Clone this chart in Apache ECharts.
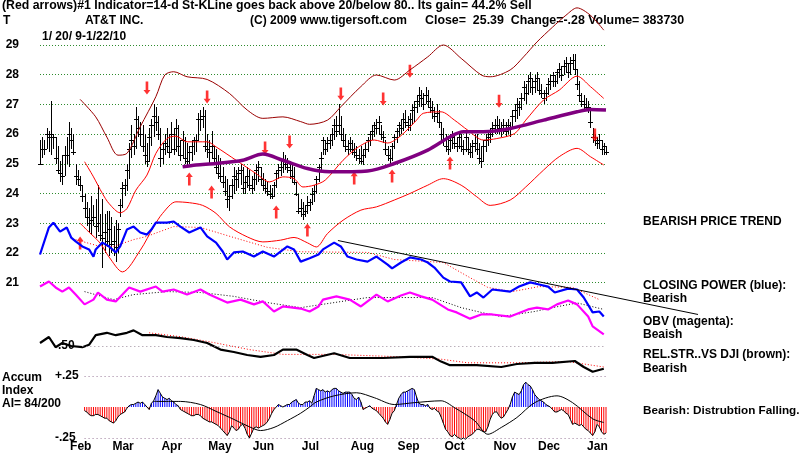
<!DOCTYPE html>
<html><head><meta charset="utf-8">
<script src="https://cdn.jsdelivr.net/npm/echarts/dist/echarts.min.js"></script>
<style>html,body{margin:0;padding:0;background:#fff}#c{width:800px;height:455px}</style>
</head><body><div id="c"></div>
<script>
// ---------- categories: trading days 1/20/09 - 1/22/10 ----------
const HOLIDAYS = ['2009-02-16','2009-04-10','2009-05-25','2009-07-03','2009-09-07','2009-11-26','2009-12-25','2010-01-01','2010-01-18'];
const MONTH_NAMES = ['Jan','Feb','Mar','Apr','May','Jun','Jul','Aug','Sep','Oct','Nov','Dec'];
function buildDays(){const out=[];let d=Date.UTC(2009,0,20);const end=Date.UTC(2010,0,22);
  while(d<=end){const dt=new Date(d);const wd=dt.getUTCDay();const s=dt.toISOString().slice(0,10);
    if(wd!==0&&wd!==6&&HOLIDAYS.indexOf(s)<0)out.push(s);d+=86400000;}return out;}
const dates = buildDays();

// ---------- price bars ----------
const high = [
25.8,25.9,25.8,26.2,26.1,27.1,26.0,25.9,25.6,25.1,
25.3,25.6,25.9,26.4,26.2,26.0,25.0,24.8,24.6,24.3,
24.0,23.7,23.5,23.9,23.6,23.8,24.3,23.3,23.8,23.3,
23.4,23.4,23.2,22.9,23.1,23.0,23.8,24.4,24.5,25.0,
25.7,26.3,26.0,26.9,26.6,26.4,26.3,26.0,25.7,26.2,
26.5,27.0,26.9,26.6,26.2,25.7,26.0,26.2,26.0,26.4,
26.2,26.5,26.3,25.8,26.1,25.9,25.7,25.6,25.8,25.9,
26.0,26.7,26.8,26.9,26.8,26.0,25.8,26.1,25.6,25.5,
25.3,25.2,24.9,24.6,24.5,24.3,24.5,24.9,24.8,24.9,
25.0,24.9,24.6,24.9,24.8,24.6,24.7,25.0,25.1,24.9,
24.7,24.5,24.4,24.3,24.2,24.4,24.8,25.0,25.2,25.4,
25.3,25.2,25.1,25.0,24.9,24.4,24.0,23.8,23.7,23.6,
23.9,23.8,24.2,24.3,24.6,25.0,25.4,25.9,25.8,25.9,
26.0,26.2,26.5,26.6,27.0,26.6,26.2,26.0,25.8,25.9,
25.8,25.7,25.6,25.5,25.6,25.5,25.7,25.9,26.1,26.3,
26.4,26.5,26.6,26.3,26.1,25.8,25.6,25.5,25.7,26.0,
26.2,26.4,26.5,26.7,26.8,26.6,26.7,27.0,27.1,27.3,
27.6,27.5,27.4,27.6,27.5,27.2,27.1,26.9,27.0,26.8,
26.4,26.2,26.0,25.9,26.0,26.1,26.0,25.9,26.1,26.0,
25.8,26.1,25.9,25.7,25.8,26.0,26.0,25.7,25.6,25.8,
26.0,26.1,26.2,26.4,26.5,26.6,26.5,26.4,26.5,26.4,
26.5,26.4,26.8,27.0,27.2,27.1,27.4,27.8,27.7,28.0,
28.1,27.9,28.0,28.1,27.9,27.7,27.5,27.6,27.9,28.0,
28.1,28.0,28.2,28.4,28.3,28.5,28.6,28.4,28.6,28.7,
28.7,28.2,27.8,27.4,27.3,27.2,27.1,26.9,26.2,26.0,
25.9,26.0,25.8,25.7,25.6];
const low = [
24.95,25.2,25.3,25.5,25.4,25.3,25.5,25.0,24.7,24.4,
24.3,24.6,25.0,24.9,25.5,25.3,24.3,24.3,24.1,23.7,
23.2,22.9,22.7,22.6,22.9,22.5,22.7,22.4,21.5,22.0,
22.2,21.9,22.0,21.9,21.7,22.0,23.2,23.5,23.9,24.1,
24.5,25.2,25.3,25.5,25.9,25.6,25.4,25.0,24.9,25.1,
25.6,25.9,26.1,25.8,24.9,25.0,25.3,25.4,25.2,25.4,
25.3,25.4,25.3,25.1,25.2,25.0,24.9,25.0,25.1,25.3,
25.4,25.8,26.1,26.2,25.4,25.2,25.0,25.2,25.0,24.7,
24.5,24.4,24.2,23.9,23.5,23.4,23.8,24.0,24.1,24.2,
24.3,24.0,24.0,24.2,24.1,24.0,24.1,24.3,24.4,24.3,
24.1,24.0,23.9,23.8,23.8,23.9,24.2,24.5,24.6,24.7,
24.8,24.7,24.5,24.4,24.3,23.9,23.3,23.2,23.1,23.2,
23.3,23.4,23.6,23.7,24.0,24.4,24.8,25.3,25.3,25.4,
25.5,25.6,25.8,25.9,26.0,25.8,25.6,25.4,25.3,25.4,
25.3,25.2,25.1,25.0,25.0,24.95,25.2,25.4,25.6,25.8,
25.9,26.0,26.0,25.8,25.7,25.3,25.1,25.0,25.1,25.5,
25.7,25.9,26.0,26.1,26.2,26.1,26.1,26.3,26.4,26.7,
26.9,26.9,26.8,27.0,26.9,26.7,26.5,26.4,26.4,26.2,
25.8,25.6,25.4,25.3,25.4,25.5,25.5,25.4,25.5,25.4,
25.3,25.4,25.3,25.2,25.2,25.4,25.3,25.0,24.85,25.1,
25.4,25.6,25.7,25.9,26.0,26.0,26.0,25.9,26.0,25.9,
26.0,25.9,26.2,26.4,26.5,26.6,26.8,27.1,27.0,27.3,
27.4,27.3,27.4,27.5,27.3,27.2,27.0,27.1,27.3,27.5,
27.6,27.6,27.7,27.9,27.8,28.0,28.1,27.9,28.0,28.2,
28.0,27.5,27.1,26.9,26.8,26.8,26.7,26.2,25.7,25.6,
25.5,25.5,25.3,25.3,25.3];
const close = [
25.0,25.5,25.5,26.0,25.9,26.0,25.9,25.2,24.8,24.7,
24.6,25.3,25.3,26.0,25.8,25.4,24.6,24.5,24.3,23.9,
23.5,23.2,23.0,23.1,23.2,22.9,23.0,22.6,22.5,22.7,
22.4,22.8,22.3,22.4,22.2,22.8,23.6,24.2,24.3,24.8,
25.5,25.8,25.6,26.5,26.2,26.0,25.6,25.3,25.1,25.9,
26.3,26.6,26.4,26.0,25.2,25.5,25.7,25.6,25.4,26.0,
25.5,26.2,25.6,25.3,25.8,25.2,25.1,25.4,25.6,25.8,
25.8,26.5,26.5,26.6,25.6,25.5,25.4,25.6,25.2,24.9,
24.7,24.6,24.4,24.1,23.8,23.9,24.3,24.6,24.5,24.7,
24.8,24.2,24.4,24.6,24.3,24.2,24.5,24.8,24.9,24.5,
24.3,24.2,24.1,24.0,23.9,24.3,24.7,24.8,24.9,25.1,
25.0,24.9,24.8,24.6,24.4,24.0,23.4,23.5,23.3,23.4,
23.6,23.7,24.0,24.1,24.5,24.9,25.2,25.8,25.5,25.7,
25.8,26.0,26.3,26.1,26.3,26.0,25.8,25.6,25.5,25.7,
25.5,25.4,25.3,25.2,25.1,25.3,25.5,25.8,26.0,26.1,
26.3,26.2,26.4,26.0,25.9,25.5,25.3,25.2,25.6,25.9,
26.1,26.3,26.2,26.5,26.4,26.3,26.5,26.8,26.9,27.1,
27.3,27.2,27.0,27.3,27.1,26.9,26.8,26.6,26.7,26.4,
26.0,25.8,25.6,25.5,25.8,25.9,25.7,25.6,25.9,25.6,
25.5,25.9,25.5,25.4,25.6,25.7,25.5,25.2,25.1,25.6,
25.8,25.9,26.0,26.2,26.3,26.3,26.2,26.2,26.3,26.1,
26.3,26.2,26.6,26.8,27.0,26.9,27.2,27.6,27.4,27.8,
27.9,27.6,27.8,27.9,27.5,27.4,27.2,27.4,27.7,27.8,
28.0,27.8,28.1,28.2,28.0,28.3,28.4,28.1,28.4,28.5,
28.2,27.7,27.3,27.1,27.0,26.9,26.9,26.4,25.9,25.8,
25.7,25.8,25.5,25.6,25.39];

// ---------- bands & averages (day index, price) ----------
const upperBand = [[18,27.17],[25,26.58],[30,25.9],[35,25.29],[39,25.35],[45,26.25],[52,27.26],[56,27.99],[60,28.1],[66,27.93],[75,27.84],[85,27.37],[93,26.81],[100,26.53],[109,26.58],[117,26.42],[121,26.33],[129,26.47],[135,26.92],[144,27.6],[151,27.99],[159,27.82],[166,28.16],[174,28.6],[181,29.0],[189,28.55],[198,27.99],[202,27.93],[211,28.16],[217,28.6],[223,29.1],[230,29.6],[236,30.0],[241,30.25],[247,30.0],[253,29.5]];
const midBand = [[20,25.07],[24,24.56],[28,24.0],[31,23.66],[36,23.35],[39,23.49],[43,24.11],[48,24.62],[52,25.35],[57,25.85],[61,25.93],[66,25.74],[75,25.74],[79,25.57],[88,25.12],[97,24.67],[103,24.39],[109,24.56],[114,24.5],[118,24.22],[123,24.28],[128,24.45],[136,25.12],[143,25.57],[150,25.8],[156,25.7],[162,25.95],[169,26.47],[172,26.7],[180,26.75],[186,26.47],[192,26.13],[199,25.8],[205,25.85],[213,26.02],[218,26.47],[226,27.15],[233,27.48],[241,27.95],[247,27.6],[253,27.2]];
const lowerBand = [[18,23.0],[22,22.7],[27,22.33],[31,21.86],[37,21.36],[45,22.09],[51,22.88],[55,23.33],[61,23.72],[67,23.69],[73,23.6],[79,23.33],[85,22.88],[93,22.54],[100,22.37],[108,22.43],[114,22.52],[120,22.34],[124,22.2],[129,22.65],[136,23.1],[144,23.44],[151,23.55],[159,23.78],[166,24.0],[174,24.28],[181,24.5],[189,24.28],[196,23.89],[202,23.6],[211,23.78],[218,24.22],[226,24.79],[233,25.24],[241,25.52],[247,25.24],[253,24.96]];
const ma65 = [[64,24.9],[70,24.96],[79,25.01],[91,25.12],[100,25.33],[109,25.12],[120,24.84],[130,24.73],[147,24.76],[159,25.01],[174,25.46],[184,25.91],[190,26.08],[199,26.08],[211,26.19],[226,26.47],[241,26.75],[247,26.83],[254,26.81]];

// ---------- signal arrows (day index, price) ----------
const downArrows = [[48,27.55],[75,27.25],[101,25.53],[111.8,25.73],[134.6,27.35],[153.5,27.18],[166.1,28.12],[206,27.11],[248.7,25.97]];
const upArrows = [[17.5,22.33],[66.9,24.49],[77.2,24.05],[105.9,23.38],[119.8,22.77],[141.4,24.52],[158.4,24.59],[184,25.03]];

// ---------- Closing Power (blue) & OBV (magenta), same scale as price panel ----------
const closingPower = [[0,21.93],[4,22.84],[6,23.0],[9,22.7],[12,22.84],[14,22.5],[16,22.37],[19,22.2],[22,22.1],[24,21.86],[25,22.1],[28,22.33],[31,22.2],[34,22.0],[36,22.2],[39,22.77],[42,22.87],[45,22.67],[48,22.6],[50,22.77],[52,23.0],[57,23.0],[60,23.04],[63,22.87],[67,22.67],[72,22.84],[75,22.54],[79,22.33],[82,22.03],[84,21.76],[87,22.0],[91,22.03],[96,21.86],[100,22.03],[105,21.86],[111,22.2],[114,22.1],[117,21.69],[121,21.8],[125,21.93],[127,22.1],[132,22.33],[135,22.2],[138,21.86],[142,21.76],[147,21.69],[151,21.86],[156,21.59],[158,21.46],[162,21.66],[166,21.83],[171,21.76],[174,21.66],[177,21.49],[181,21.15],[184,21.02],[189,20.99],[193,20.52],[196,20.65],[199,20.48],[203,20.75],[211,20.68],[215,20.85],[220,20.99],[224,20.92],[228,20.85],[231,20.65],[237,20.78],[241,20.75],[244,20.48],[248,19.98],[251,20.01],[253,19.84]];
const closingPowerMA = [[16,22.43],[27,22.2],[33,22.2],[42,22.43],[48,22.54],[60,22.87],[72,22.84],[87,22.5],[102,22.17],[117,22.02],[147,22.0],[159,21.76],[181,21.66],[192,21.19],[201,20.82],[212,20.68],[224,20.85],[239,20.82],[251,20.41]];
const cpTrend = [[133.7,22.40],[295.3,19.91]];
const obv = [[0,20.85],[4,21.02],[7,20.82],[10,20.68],[13,20.82],[16,20.58],[20,20.25],[24,20.41],[26,20.65],[30,20.41],[34,20.35],[37,20.58],[40,20.82],[45,20.68],[52,20.85],[55,20.68],[60,20.75],[66,20.58],[72,20.75],[76,20.58],[84,20.31],[90,20.41],[96,20.25],[100,20.35],[105,20.01],[109,20.18],[117,20.11],[121,20.01],[125,20.18],[127,20.41],[133,20.52],[139,20.41],[144,20.18],[151,20.58],[156,20.35],[162,20.55],[166,20.65],[171,20.52],[176,20.41],[183,20.08],[187,19.98],[193,19.77],[198,19.91],[203,19.91],[211,19.84],[219,20.08],[223,20.14],[228,20.08],[232,20.25],[237,20.38],[241,20.25],[246,19.84],[248,19.51],[253,19.24]];
const obvMA = [[20,20.68],[33,20.41],[42,20.58],[57,20.68],[72,20.65],[87,20.52],[102,20.31],[117,20.14],[132,20.31],[147,20.48],[166,20.48],[176,20.48],[189,20.14],[198,19.98],[207,19.84],[222,20.01],[230,20.14],[241,20.3],[253,20.08]];

// ---------- Relative strength vs DJI ----------
const relStr = [[0,0.525],[4,0.575],[7,0.49],[10,0.525],[14,0.5],[19,0.49],[22,0.51],[25,0.59],[30,0.61],[34,0.59],[39,0.61],[42,0.63],[46,0.59],[52,0.59],[57,0.575],[63,0.565],[69,0.55],[75,0.525],[81,0.47],[87,0.45],[93,0.425],[99,0.41],[105,0.425],[109,0.47],[115,0.47],[120,0.425],[123,0.40],[132,0.44],[139,0.40],[154,0.40],[166,0.41],[176,0.41],[180,0.37],[184,0.34],[196,0.34],[207,0.325],[214,0.35],[222,0.36],[230,0.36],[240,0.375],[244,0.325],[248,0.285],[253,0.31]];
const relStrMA = [[49,0.61],[64,0.575],[79,0.525],[94,0.47],[109,0.43],[124,0.43],[132,0.43],[162,0.41],[180,0.39],[192,0.36],[214,0.36],[237,0.37],[253,0.325]];

// ---------- Accumulation index (daily from day 20) ----------
const accumStart = 20;
const accumVals = [
-0.03,-0.04,-0.06,-0.07,-0.07,-0.06,-0.06,-0.07,-0.08,-0.09,
-0.09,-0.11,-0.12,-0.13,-0.11,-0.08,-0.06,-0.05,-0.04,-0.01,
0.01,0.02,0.02,0.03,0.04,0.03,0.04,0.02,0.0,-0.02,
0.03,0.05,0.09,0.14,0.11,0.08,0.07,0.06,0.07,0.05,
0.04,0.02,0.01,-0.02,-0.03,-0.04,-0.05,-0.06,-0.07,-0.07,
-0.06,-0.06,-0.07,-0.09,-0.1,-0.11,-0.12,-0.12,-0.13,-0.14,
-0.15,-0.17,-0.19,-0.21,-0.23,-0.2,-0.15,-0.17,-0.19,-0.18,
-0.15,-0.14,-0.17,-0.22,-0.25,-0.21,-0.17,-0.16,-0.17,-0.16,
-0.15,-0.14,-0.12,-0.09,-0.05,-0.02,0.0,0.02,0.01,0.0,
0.01,0.02,0.02,0.04,0.05,0.06,0.03,0.02,0.02,0.04,
0.04,0.05,0.03,0.09,0.15,0.14,0.13,0.14,0.12,0.13,
0.12,0.14,0.15,0.15,0.13,0.12,0.11,0.12,0.12,0.12,
0.1,0.07,0.06,0.08,0.04,-0.02,-0.01,0.0,0.01,-0.01,
-0.02,-0.03,-0.05,-0.07,-0.09,-0.12,-0.14,-0.1,-0.05,-0.03,
0.02,0.07,0.1,0.12,0.12,0.13,0.14,0.15,0.14,0.08,
0.03,0.02,0.02,0.01,0.02,-0.01,-0.02,-0.01,-0.03,-0.04,
-0.08,-0.13,-0.18,-0.2,-0.23,-0.24,-0.22,-0.24,-0.25,-0.26,
-0.25,-0.26,-0.24,-0.23,-0.22,-0.2,-0.18,-0.18,-0.19,-0.2,
-0.2,-0.16,-0.1,-0.06,-0.04,-0.04,-0.07,-0.09,-0.08,-0.05,
-0.02,0.02,0.08,0.12,0.11,0.1,0.13,0.18,0.2,0.18,
0.17,0.14,0.1,0.08,0.06,0.05,0.04,0.02,0.01,0.0,
-0.02,-0.04,-0.04,-0.03,-0.02,-0.03,-0.05,-0.06,-0.1,-0.14,
-0.13,-0.14,-0.15,-0.14,-0.16,-0.18,-0.19,-0.21,-0.23,-0.2,
-0.14,-0.16,-0.2,-0.22,-0.21];
const accumMA = [[51,0.045],[63,0.045],[72,0.02],[79,-0.035],[87,-0.1],[94,-0.16],[99,-0.19],[105,-0.165],[111,-0.11],[117,-0.05],[121,0.0],[124,0.04],[132,0.09],[142,0.115],[150,0.075],[159,0.02],[168,0.035],[180,0.05],[186,-0.005],[195,-0.11],[201,-0.22],[207,-0.165],[214,-0.085],[222,0.035],[232,0.09],[239,0.035],[248,-0.095],[253,-0.125]];

// ---------- build ----------
const monthIdx = {};
dates.forEach((s,i)=>{ if(i>0 && s.slice(5,7)!==dates[i-1].slice(5,7)) monthIdx[i]=MONTH_NAMES[+s.slice(5,7)-1]; });
const N = dates.length;
const ohlc = high.map((h,i)=>[i,h,low[i],close[i]]);
const accum = accumVals.map((v,k)=>[accumStart+k,v]);
const TREND_END = cpTrend[cpTrend.length-1][0];

const FONT = 'Liberation Sans';
const lbl = {fontFamily:FONT,fontWeight:'bold',fontSize:12,color:'#000'};
const UP_PATH = 'path://M4,0 L8,5 L5.5,5 L5.5,14 L2.5,14 L2.5,5 L0,5 Z';
const DOWN_PATH = 'path://M4,14 L8,9 L5.5,9 L5.5,0 L2.5,0 L2.5,9 L0,9 Z';

function ln(data, xi, yi, color, width, type, extra){
  return Object.assign({type:'line', xAxisIndex:xi, yAxisIndex:yi, data, showSymbol:false, symbol:'none',
    clip:false, silent:true, lineStyle:{color, width, type:type||'solid'}}, extra||{});
}

const PLOT_LEFT = 40, PLOT_W = 566;
const DAY_W = PLOT_W/(N-1);
const xAxes = [0,1,2,3].map(g=>({type:'category', gridIndex:g, data:dates, boundaryGap:false,
    axisLine:{show:false}, axisTick:{show:false}, splitLine:{show:false},
    axisLabel: g===3 ? Object.assign({show:true, interval:(i)=>monthIdx[i]!==undefined,
      formatter:(v,i)=>monthIdx[i]||'', align:'left', padding:[0,0,0,10], margin:3}, lbl) : {show:false}}));
// extended day axis (same day spacing) for the closing-power trendline that runs into the right margin
xAxes.push({type:'value', gridIndex:4, min:0, max:TREND_END, show:false});

const T = (text, left, top, size) => ({type:'text', left, top, silent:true,
  style:{text, font:'bold '+size+'px "Liberation Sans"', fill:'#000'}});

const option = {
  animation:false,
  backgroundColor:'#ffffff',
  grid:[
    {left:PLOT_LEFT, width:PLOT_W, top:45, height:237.6},
    {left:PLOT_LEFT, width:PLOT_W, top:193, height:148.5},
    {left:PLOT_LEFT, width:PLOT_W, top:346, height:30},
    {left:PLOT_LEFT, width:PLOT_W, top:376, height:62},
    {left:PLOT_LEFT, width:DAY_W*TREND_END, top:193, height:148.5}
  ],
  xAxis: xAxes,
  yAxis:[
    {type:'value', gridIndex:0, min:21, max:29, interval:1, axisLine:{show:false}, axisTick:{show:false},
     axisLabel:Object.assign({margin:21, showMinLabel:true, showMaxLabel:true}, lbl),
     splitLine:{show:true, lineStyle:{color:'#2e8b2e', type:[1,2], width:1}}},
    {type:'value', gridIndex:1, min:19, max:24, show:false},
    {type:'value', gridIndex:2, min:0.25, max:0.5, interval:0.25, axisLine:{show:false}, axisTick:{show:false},
     splitLine:{show:false},
     axisLabel:Object.assign({inside:true, margin:18, showMinLabel:true, showMaxLabel:true,
       formatter:(v)=>Math.abs(v-0.5)<1e-9?'.50':''}, lbl)},
    {type:'value', gridIndex:3, min:-0.25, max:0.25, interval:0.25, axisLine:{show:false}, axisTick:{show:false},
     splitLine:{show:false},
     axisLabel:Object.assign({inside:true, margin:15, showMinLabel:true, showMaxLabel:true,
       formatter:(v)=> v>0.2?'+.25':(v<-0.2?'-.25':'')}, lbl)},
    {type:'value', gridIndex:4, min:19, max:24, show:false}
  ],
  series:[
    ln(upperBand,0,0,'#9a0000',1,'solid',{smooth:0.3}),
    ln(midBand,0,0,'#ff0000',1,'solid',{smooth:0.3}),
    ln(lowerBand,0,0,'#ff0000',1,'solid',{smooth:0.3}),
    ln(ma65,0,0,'#800080',3.5,'solid',{smooth:0.3}),
    {type:'custom', xAxisIndex:0, yAxisIndex:0, data:ohlc, clip:false, silent:true,
     encode:{x:0, y:[1,2,3]},
     renderItem:function(params, api){
       const i = api.value(0);
       const ph = api.coord([i, api.value(1)]);
       const pl = api.coord([i, api.value(2)]);
       const pc = api.coord([i, api.value(3)]);
       const x = Math.round(ph[0]) + 0.5;
       const yc = Math.round(pc[1]) + 0.5;
       return {type:'group', children:[
         {type:'line', shape:{x1:x, y1:Math.round(ph[1]), x2:x, y2:Math.round(pl[1])}, style:{stroke:'#000', lineWidth:1}},
         {type:'line', shape:{x1:x-2.5, y1:yc, x2:x+2.5, y2:yc}, style:{stroke:'#000', lineWidth:1}}
       ]};
     }},
    {type:'scatter', xAxisIndex:0, yAxisIndex:0, data:downArrows, symbol:DOWN_PATH, symbolSize:[7,13],
     itemStyle:{color:'#ff0000'}, silent:true, clip:false},
    {type:'scatter', xAxisIndex:0, yAxisIndex:0, data:upArrows, symbol:UP_PATH, symbolSize:[7,13],
     itemStyle:{color:'#ff0000'}, silent:true, clip:false},
    ln(closingPowerMA,1,1,'#ff0000',1,[1,2]),
    ln(obvMA,1,1,'#000000',1,[1,2]),
    ln(closingPower,1,1,'#0000ff',2.2),
    ln(obv,1,1,'#ff00ff',2.2),
    ln(cpTrend,4,4,'#000000',1),
    ln(relStrMA,2,2,'#ff0000',1,[1,2]),
    ln(relStr,2,2,'#000000',2.2,'solid',{markLine:{silent:true, symbol:'none', label:{show:false},
      lineStyle:{color:'#9a8a9a', type:[1,3], width:1},
      data:[[{coord:[19,0.5]},{coord:[N-1,0.5]}]]}}),
    {type:'bar', xAxisIndex:3, yAxisIndex:3, data:accum, barWidth:1, silent:true,
     itemStyle:{color:(p)=>p.value[1]>=0?'#0000ff':'#ff0000'},
     markLine:{silent:true, symbol:'none', label:{show:false},
       lineStyle:{color:'#9a7a9a', type:[1,3], width:1},
       data:[[{coord:[accumStart,0.25]},{coord:[N-1,0.25]}],[{coord:[accumStart,-0.25]},{coord:[N-1,-0.25]}]]}},
    ln(accum,3,3,'#000000',1),
    ln(accumMA,3,3,'#000000',1,'solid',{smooth:0.3})
  ],
  graphic:[
    T('(Red arrows)#1 Indicator=14-d St-KLine goes back above 20/below 80.. Its gain= 44.2% Sell', 2, 0, 12.3),
    T('T', 3, 15, 12),
    T('AT&T INC.', 85, 15, 12),
    T('(C) 2009 www.tigersoft.com', 250, 15, 12),
    T('Close=  25.39  Change=-.28 Volume= 383730', 425, 15, 12.4),
    T('1/ 20/ 9-1/22/10', 42, 31, 12),
    T('BEARISH PRICE TREND', 643, 216, 12),
    T('CLOSING POWER (blue):', 643, 280, 12),
    T('Bearish', 643, 293, 12),
    T('OBV (magenta):', 643, 316, 12),
    T('Beaish', 643, 329, 12),
    T('REL.STR..VS DJI (brown):', 643, 349, 12),
    T('Bearish', 643, 363, 12),
    T('Bearish: Distrubtion Falling.', 643, 405, 11.7),
    T('Accum', 2, 372, 12),
    T('Index', 2, 385, 12),
    T('AI= 84/200', 2, 398, 12)
  ]
};
const chart = echarts.init(document.getElementById('c'), null, {renderer:'canvas'});
chart.setOption(option);
</script></body></html>
